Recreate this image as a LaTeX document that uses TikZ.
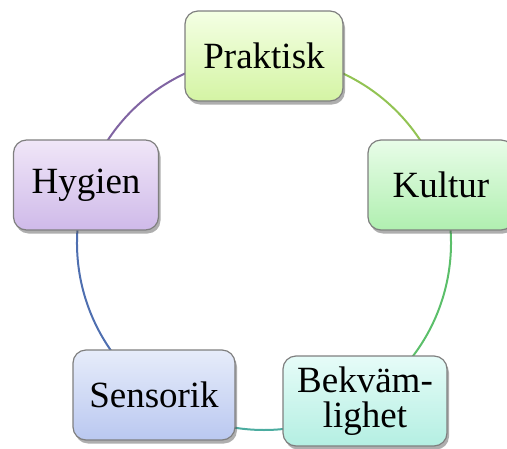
\documentclass[tikz,border=0pt]{standalone}
\usepackage{fontspec}
\setmainfont{Liberation Serif}
\usetikzlibrary{shadows,shadings}
\definecolor{arcA}{HTML}{92C353}
\definecolor{arcB}{HTML}{5BBF6A}
\definecolor{arcC}{HTML}{4BACA0}
\definecolor{arcD}{HTML}{4F6FB0}
\definecolor{arcE}{HTML}{8064A2}
\definecolor{pTop}{HTML}{F4FFE4}\definecolor{pBot}{HTML}{D4F4A4}
\definecolor{kTop}{HTML}{E8FDE8}\definecolor{kBot}{HTML}{B0EFB0}
\definecolor{bTop}{HTML}{E6FCF8}\definecolor{bBot}{HTML}{B4EFE2}
\definecolor{sTop}{HTML}{E6ECFA}\definecolor{sBot}{HTML}{BAC8F0}
\definecolor{hTop}{HTML}{F0E6F8}\definecolor{hBot}{HTML}{CFBAE9}
\definecolor{boxline}{HTML}{7F7F7F}
\tikzset{
  cyclebox/.style={draw=boxline, line width=1.2pt, rounded corners=13pt,
    minimum height=90pt, align=center, inner sep=0pt,
    font=\fontsize{37}{35}\selectfont,
    drop shadow={shadow xshift=2pt, shadow yshift=-3.5pt, opacity=0.45, fill=black!70}},
  cyclearc/.style={line width=2pt}
}
\begin{document}
\begin{tikzpicture}[x=1pt,y=1pt]
\useasboundingbox (0,0) rectangle (507,-448);
\coordinate (O) at (264,-243);
% arcs of the cycle
\draw[cyclearc, arcA] (O) ++(90:187) arc[start angle=90, end angle=18, radius=187];
\draw[cyclearc, arcB] (O) ++(18:187) arc[start angle=18, end angle=-54, radius=187];
\draw[cyclearc, arcC] (O) ++(-54:187) arc[start angle=-54, end angle=-126, radius=187];
\draw[cyclearc, arcD] (O) ++(-126:187) arc[start angle=-126, end angle=-198, radius=187];
\draw[cyclearc, arcE] (O) ++(162:187) arc[start angle=162, end angle=90, radius=187];
% boxes
\node[cyclebox, minimum width=158pt, top color=pTop, bottom color=pBot] (prak) at (264,-56) {Praktisk};
\node[cyclebox, minimum width=146pt, top color=kTop, bottom color=kBot] (kult) at (441,-185) {Kultur};
\node[cyclebox, minimum width=164pt, top color=bTop, bottom color=bBot] (bekv) at (365,-401) {Bekväm-\\lighet};
\node[cyclebox, minimum width=162pt, top color=sTop, bottom color=sBot] (sens) at (154,-395) {Sensorik};
\node[cyclebox, minimum width=145pt, top color=hTop, bottom color=hBot] (hyg) at (86,-185) {Hygien};
\end{tikzpicture}
\end{document}
